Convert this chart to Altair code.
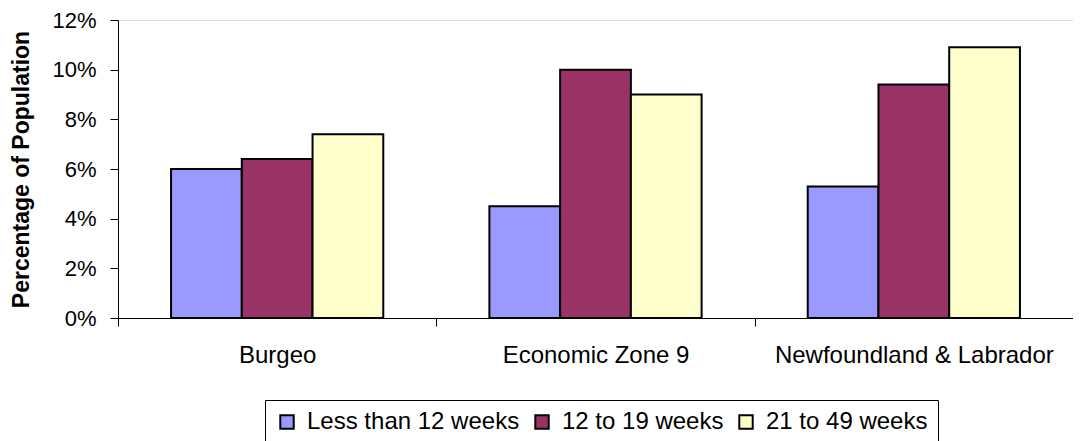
import altair as alt
import pandas as pd

categories = ["Burgeo", "Economic Zone 9", "Newfoundland & Labrador"]
series = ["Less than 12 weeks", "12 to 19 weeks", "21 to 49 weeks"]
less_than_12 = [0.060, 0.045, 0.053]
w12_to_19 = [0.064, 0.100, 0.094]
w21_to_49 = [0.074, 0.090, 0.109]
colors = ["#9999FF", "#993366", "#FFFFCC"]
y_ticks = [0, 0.02, 0.04, 0.06, 0.08, 0.10, 0.12]

rows = []
for i, c in enumerate(categories):
    for s, vals in zip(series, [less_than_12, w12_to_19, w21_to_49]):
        rows.append({"Region": c, "Duration": s, "Value": vals[i]})
df = pd.DataFrame(rows)

FONT = "Liberation Sans"

chart = alt.Chart(df).mark_bar(stroke="black", strokeWidth=2).encode(
    x=alt.X("Region:N", sort=categories,
            scale=alt.Scale(paddingInner=0, paddingOuter=0),
            axis=alt.Axis(title=None, labelAngle=0, tickBand="extent", tickSize=8,
                          tickColor="black", domainColor="black", labelColor="black",
                          labelFontSize=24, labelFont=FONT, labelPadding=17,
                          labelBaseline="top", labelLimit=0)),
    xOffset=alt.XOffset("Duration:N", sort=series,
                        scale=alt.Scale(paddingInner=0, paddingOuter=0.75)),
    y=alt.Y("Value:Q", scale=alt.Scale(domain=[0, 0.12], nice=False),
            axis=alt.Axis(title="Percentage of Population", format=".0%", values=y_ticks,
                          grid=False, tickSize=8, tickColor="black", domainColor="black",
                          labelColor="black", labelFontSize=22, labelFont=FONT,
                          labelPadding=14, titleFont=FONT, titleFontSize=23,
                          titleFontWeight="bold", titleColor="black",
                          titleAngle=-90, titleBaseline="bottom", titleX=-85, titleY=149,
                          titleAlign="center")),
    color=alt.Color("Duration:N", sort=series,
                    scale=alt.Scale(domain=series, range=colors),
                    legend=alt.Legend(title=None, orient="none", legendX=147, legendY=380,
                                      direction="horizontal", strokeColor="black",
                                      padding=10, symbolType="square", symbolSize=180,
                                      symbolStrokeColor="black", symbolStrokeWidth=2,
                                      labelFont=FONT, labelFontSize=24, labelColor="black",
                                      labelOffset=8, columnPadding=10, symbolOpacity=1,
                                      labelLimit=0)),
).properties(
    width=955,
    height=298,
    padding={"left": 110, "top": 12, "right": 0, "bottom": 140},
    autosize=alt.AutoSizeParams(type="none"),
).configure_view(stroke=None).configure(background="white")

chart.save("out.html", embed_options={"renderer": "svg", "actions": False})
